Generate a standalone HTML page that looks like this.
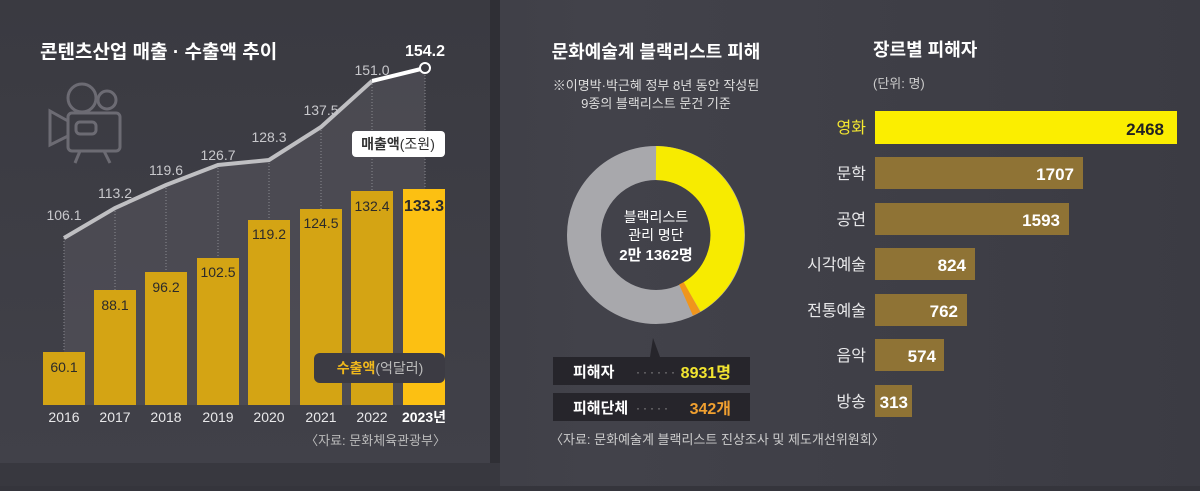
<!DOCTYPE html>
<html><head><meta charset="utf-8"><style>
body{margin:0;width:1200px;height:486px;overflow:hidden;background:#35353c;font-family:"Liberation Sans","Noto Sans CJK KR",sans-serif}
</style></head><body>
<svg width="1200" height="486" viewBox="0 0 1200 486" xmlns="http://www.w3.org/2000/svg" font-family="Liberation Sans, Noto Sans CJK KR, sans-serif">
<defs>
<linearGradient id="bg" x1="0" y1="0" x2="0" y2="1"><stop offset="0" stop-color="#3a3a41"/><stop offset="1" stop-color="#414149"/></linearGradient>
<linearGradient id="bg2" x1="0" y1="0" x2="1" y2="0"><stop offset="0" stop-color="#36363d"/><stop offset="0.5" stop-color="#42424a"/><stop offset="1" stop-color="#3b3b43"/></linearGradient>
</defs>
<rect width="1200" height="486" fill="url(#bg2)"/>
<rect x="0" y="0" width="490" height="463" fill="url(#bg)"/>
<rect x="490" y="0" width="10" height="463" fill="#2f2f35"/>
<rect x="0" y="463" width="500" height="23" fill="#38383f"/>
<!-- shaded areas under line -->
<polygon points="64,238 115,208 166,185 218,165 269,160 321,127 372,81 425,68 425,405 64,405" fill="#55535b" opacity="0.6"/>
<g stroke="#8a8a90" stroke-dasharray="1,2" stroke-width="1">
<line x1="64" y1="238" x2="64" y2="352"/><line x1="115" y1="208" x2="115" y2="290"/><line x1="166" y1="185" x2="166" y2="272"/><line x1="218" y1="165" x2="218" y2="258"/><line x1="269" y1="160" x2="269" y2="220"/><line x1="321" y1="127" x2="321" y2="209"/><line x1="372" y1="81" x2="372" y2="191"/><line x1="425" y1="72" x2="425" y2="189"/>
</g>
<text x="40" y="58" fill="#fff" font-size="19" font-weight="bold">콘텐츠산업 매출 · 수출액 추이</text>
<!-- camera icon -->
<g stroke="#6c6b73" stroke-width="3" fill="none">
<circle cx="82" cy="98" r="14"/><circle cx="107" cy="100" r="9"/>
<rect x="68" y="113" width="52" height="38" rx="4"/><polyline points="68,121 50,111 50,145 68,136"/>
<rect x="76" y="122" width="20" height="12" rx="4"/><line x1="80" y1="151" x2="75" y2="163"/><line x1="104" y1="151" x2="110" y2="163"/>
</g>
<!-- bars -->
<g fill="#d4a414">
<rect x="43" y="352" width="42" height="53"/><rect x="94" y="290" width="42" height="115"/><rect x="145" y="272" width="42" height="133"/><rect x="197" y="258" width="42" height="147"/><rect x="248" y="220" width="42" height="185"/><rect x="300" y="209" width="42" height="196"/><rect x="351" y="191" width="42" height="214"/>
</g>
<rect x="403" y="189" width="42" height="216" fill="#fcc012"/>
<g fill="#2b2a2a" font-size="14" text-anchor="middle">
<text x="64" y="372">60.1</text><text x="115" y="310">88.1</text><text x="166" y="292">96.2</text><text x="218" y="277">102.5</text><text x="269" y="239">119.2</text><text x="321" y="228">124.5</text><text x="372" y="211">132.4</text><text x="424" y="211" font-weight="bold" font-size="16">133.3</text>
</g>
<polyline points="64,238 115,208 166,185 218,165 269,160 321,127 372,81" fill="none" stroke="#bfbfc2" stroke-width="4"/>
<polyline points="372,81 425,68" fill="none" stroke="#fff" stroke-width="4"/>
<circle cx="425" cy="68" r="5" fill="#3a3a41" stroke="#fff" stroke-width="2"/>
<g fill="#c8c8cc" font-size="14" text-anchor="middle">
<text x="64" y="220">106.1</text><text x="115" y="198">113.2</text><text x="166" y="175">119.6</text><text x="218" y="160">126.7</text><text x="269" y="142">128.3</text><text x="321" y="115">137.5</text><text x="372" y="75">151.0</text>
</g>
<text x="425" y="56" fill="#fff" font-size="16" font-weight="bold" text-anchor="middle">154.2</text>
<rect x="352" y="131" width="93" height="26" rx="4" fill="#fff"/>
<text x="398" y="149" font-size="14" text-anchor="middle" fill="#333"><tspan font-weight="bold">매출액</tspan>(조원)</text>
<rect x="314" y="353" width="131" height="30" rx="6" fill="#3c3b43"/>
<text x="380" y="373" font-size="14" text-anchor="middle" fill="#bbb"><tspan font-weight="bold" fill="#f0b81c">수출액</tspan>(억달러)</text>
<g fill="#e8e8ea" font-size="14" text-anchor="middle">
<text x="64" y="422">2016</text><text x="115" y="422">2017</text><text x="166" y="422">2018</text><text x="218" y="422">2019</text><text x="269" y="422">2020</text><text x="321" y="422">2021</text><text x="372" y="422">2022</text><text x="424" y="422" font-weight="bold" fill="#fff">2023년</text>
</g>
<text x="446" y="445" fill="#bbb" font-size="13" text-anchor="end">〈자료: 문화체육관광부〉</text>
<!-- donut -->
<text x="656" y="58" fill="#fff" font-size="18" font-weight="bold" text-anchor="middle">문화예술계 블랙리스트 피해</text>
<text x="656" y="90" fill="#ddd" font-size="13" text-anchor="middle">※이명박·박근혜 정부 8년 동안 작성된</text>
<text x="656" y="108" fill="#ddd" font-size="13" text-anchor="middle">9종의 블랙리스트 문건 기준</text>
<circle cx="656" cy="235" r="72" fill="none" stroke="#a8a8ac" stroke-width="34"/>
<path d="M656,163 A72,72 0 0 1 692,297" fill="none" stroke="#f7eb00" stroke-width="34"/>
<path d="M692,297 A72,72 0 0 1 686,300" fill="none" stroke="#f0951c" stroke-width="34"/>
<text x="656" y="222" fill="#fff" font-size="14" text-anchor="middle">블랙리스트</text>
<text x="656" y="240" fill="#fff" font-size="14" text-anchor="middle">관리 명단</text>
<text x="656" y="260" fill="#fff" font-size="15" font-weight="bold" text-anchor="middle">2만 1362명</text>
<polygon points="653,338 650,357 660,357" fill="#26252b"/>
<rect x="553" y="357" width="197" height="28" fill="#26252b"/>
<rect x="553" y="393" width="197" height="28" fill="#26252b"/>
<text x="573" y="377" fill="#fff" font-size="15" font-weight="bold">피해자</text>
<text x="636" y="376" fill="#999" font-size="12" letter-spacing="3">······</text>
<text x="731" y="378" fill="#f2e530" font-size="16" font-weight="bold" text-anchor="end">8931명</text>
<text x="573" y="413" fill="#fff" font-size="15" font-weight="bold">피해단체</text>
<text x="636" y="412" fill="#999" font-size="12" letter-spacing="3">·····</text>
<text x="731" y="414" fill="#f0a030" font-size="16" font-weight="bold" text-anchor="end">342개</text>
<text x="550" y="444" fill="#ccc" font-size="13">〈자료: 문화예술계 블랙리스트 진상조사 및 제도개선위원회〉</text>
<!-- right bars -->
<text x="873" y="56" fill="#fff" font-size="18" font-weight="bold">장르별 피해자</text>
<text x="873" y="88" fill="#ccc" font-size="13">(단위: 명)</text>
<rect x="875" y="111" width="302" height="33" fill="#fbee00"/>
<g fill="#8f7335">
<rect x="875" y="157" width="208" height="32"/><rect x="875" y="203" width="194" height="32"/><rect x="875" y="248" width="100" height="32"/><rect x="875" y="294" width="92" height="32"/><rect x="875" y="339" width="69" height="32"/><rect x="875" y="385" width="37" height="32"/>
</g>
<g font-size="16" text-anchor="end" fill="#e8e8ea">
<text x="866" y="133" fill="#f5e830">영화</text><text x="866" y="179">문학</text><text x="866" y="225">공연</text><text x="866" y="270">시각예술</text><text x="866" y="316">전통예술</text><text x="866" y="361">음악</text><text x="866" y="407">방송</text>
</g>
<g font-size="17" font-weight="bold" text-anchor="end" fill="#fff">
<text x="1164" y="135" fill="#222">2468</text><text x="1074" y="180">1707</text><text x="1060" y="226">1593</text><text x="966" y="271">824</text><text x="958" y="317">762</text><text x="936" y="362">574</text><text x="908" y="408">313</text>
</g>
</svg>
</body></html>
